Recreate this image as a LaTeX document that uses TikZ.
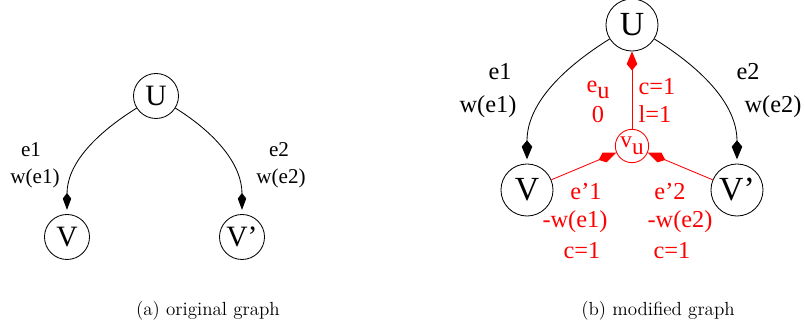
\documentclass[tikz,border=0pt]{standalone}
\usepackage{fontspec}
\newfontfamily\timesfont{Liberation Serif}
\usetikzlibrary{arrows.meta}
\begin{document}
\begin{tikzpicture}[
  x=0.711pt, y=-0.711pt,
  arrow/.style={-{Kite[length=12pt,width=6pt,inset=4pt]}, line width=0.6pt},
  bigarrow/.style={-{Kite[length=13.5pt,width=7.5pt,inset=4.5pt]}, line width=0.6pt},
  vertex/.style={circle, draw, line width=0.6pt, inner sep=0pt, minimum size=32pt, font=\timesfont\fontsize{21}{24}\selectfont},
  bigvertex/.style={vertex, minimum size=37pt, font=\timesfont\fontsize{24}{28}\selectfont},
  lbl/.style={font=\timesfont\fontsize{15}{18}\selectfont},
  biglbl/.style={font=\timesfont\fontsize{17.3}{20}\selectfont}
]
  \useasboundingbox (0,0) rectangle (805,335);

  % (a) original graph
  \node[vertex] (u) at (156,96) {U};
  \node[vertex] (v) at (67,237) {V};
  \node[vertex] (vp) at (242,237) {V’};

  \draw[arrow, shorten >=3pt] (u) to[out=212, in=90] (v);
  \draw[arrow, shorten >=3pt] (u) to[out=328, in=90] (vp);

  \node[lbl] (e1) at (31,150) {e1};
  \node[lbl] (we1) at (35,178) {w(e1)};
  \node[lbl] (e2) at (279,150) {e2};
  \node[lbl] (we2) at (281,178) {w(e2)};

  \node (capa) at (208,311) {\fontsize{13.5}{16}\selectfont (a) original graph};

  % (b) modified graph
  \node[bigvertex] (ru) at (632,25) {U};
  \node[bigvertex] (rv) at (527,190) {V};
  \node[bigvertex] (rvp) at (737,190) {V’};
  \node[vertex, red, minimum size=23.7pt, font=\timesfont\fontsize{16.5}{18}\selectfont] (vu) at (632,146) {v\raisebox{-0.7ex}{u}};

  \draw[bigarrow, shorten >=3pt] (ru) to[out=212, in=90] (rv);
  \draw[bigarrow, shorten >=3pt] (ru) to[out=328, in=90] (rvp);

  \draw[bigarrow, red] (rv) -- (vu);
  \draw[bigarrow, red] (rvp) -- (vu);
  \draw[bigarrow, red] (vu) -- (ru);

  \node[biglbl] (re1) at (500,72) {e1};
  \node[biglbl] (rwe1) at (488,107) {w(e1)};
  \node[biglbl] (re2) at (748,72) {e2};
  \node[biglbl] (rwe2) at (773,107) {w(e2)};

  \node[biglbl, red] (eu) at (598,90) {e\raisebox{-0.5ex}{u}};
  \node[biglbl, red] (eu0) at (598,115) {0};
  \node[biglbl, red] (cu) at (657,87) {c=1};
  \node[biglbl, red] (lu) at (655,114) {l=1};

  \node[biglbl, red] (ep1) at (586,192) {e’1};
  \node[biglbl, red] (wep1) at (575,222) {-w(e1)};
  \node[biglbl, red] (cp1) at (582,251) {c=1};
  \node[biglbl, red] (ep2) at (670,192) {e’2};
  \node[biglbl, red] (wep2) at (680,222) {-w(e2)};
  \node[biglbl, red] (cp2) at (672,251) {c=1};

  \node (capb) at (658,311) {\fontsize{13.5}{16}\selectfont (b) modified graph};
\end{tikzpicture}
\end{document}
